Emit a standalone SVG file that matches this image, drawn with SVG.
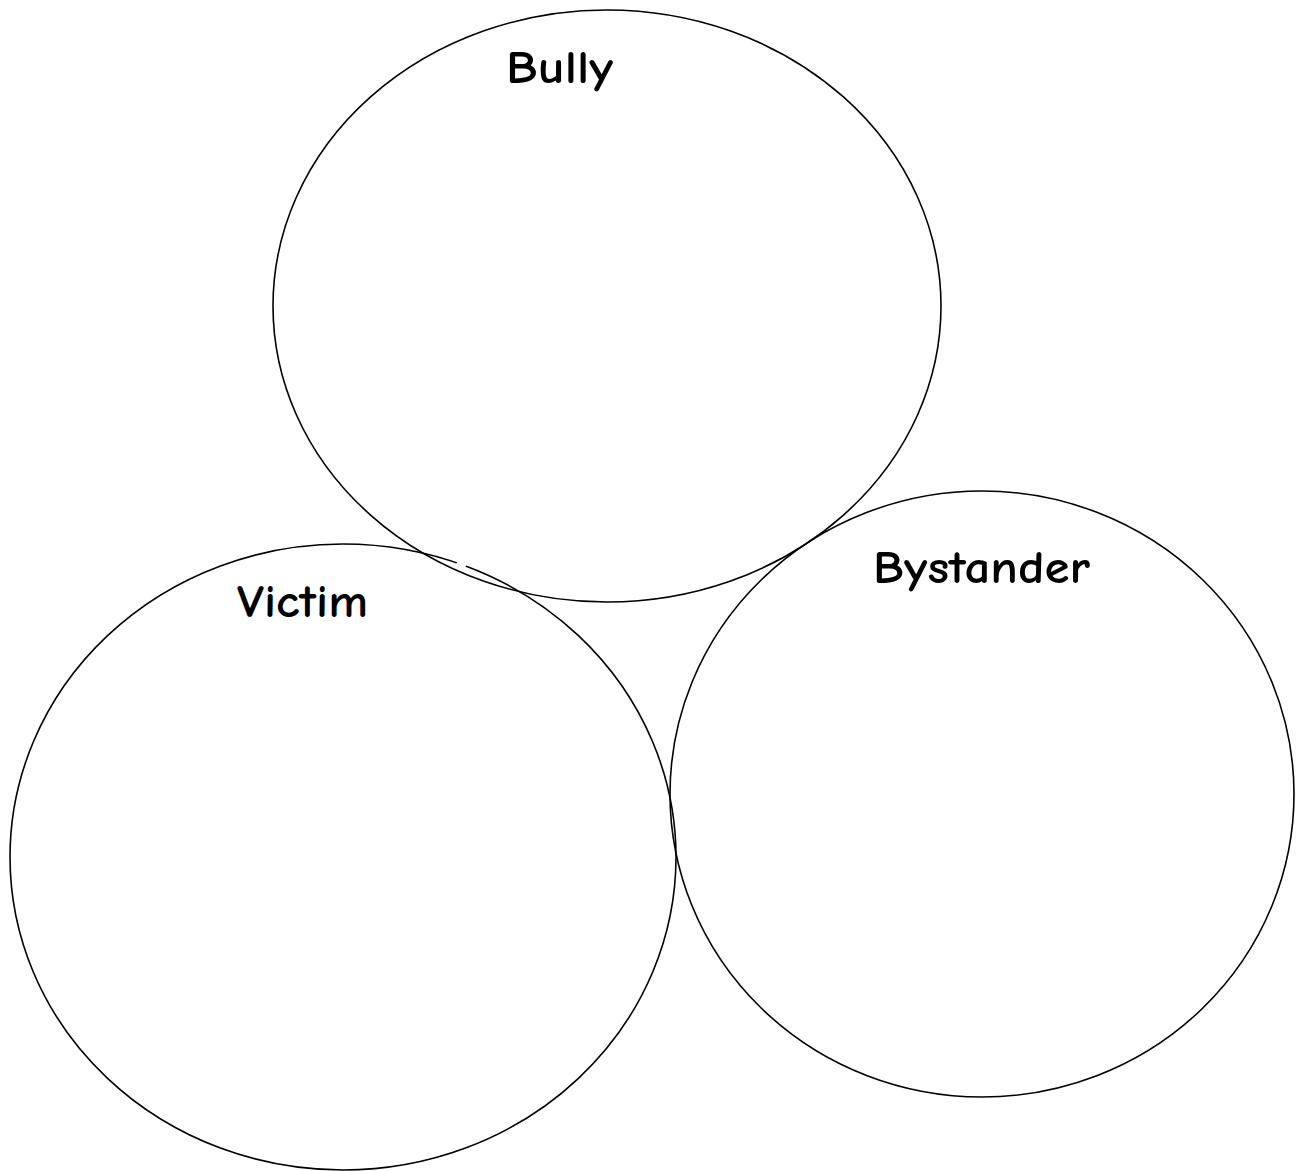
<svg xmlns="http://www.w3.org/2000/svg" width="1302" height="1171" viewBox="0 0 1302 1171">
<style>
.c{fill:none;stroke:#000;stroke-width:1.6}
.t{font-family:"Comic Neue","DejaVu Sans","Liberation Sans",sans-serif;font-weight:bold;font-size:46px;fill:#000}
</style>
<rect width="1302" height="1171" fill="#fff"/>
<g id="bully">
<ellipse class="c" cx="607" cy="306" rx="334" ry="296"/>
<text class="t" x="506" y="83" textLength="107" lengthAdjust="spacingAndGlyphs">Bully</text>
</g>
<g id="victim">
<ellipse class="c" cx="343" cy="857" rx="333" ry="313"/>
<text class="t" x="237" y="617" textLength="131" lengthAdjust="spacingAndGlyphs">Victim</text>
</g>
<g id="bystander">
<ellipse class="c" cx="982" cy="794" rx="312" ry="303"/>
<text class="t" x="873" y="583" textLength="217" lengthAdjust="spacingAndGlyphs">Bystander</text>
</g>
<line x1="457" y1="562.5" x2="465.5" y2="566.5" stroke="#fff" stroke-width="9"/>
<g id="connectors"></g>
</svg>
